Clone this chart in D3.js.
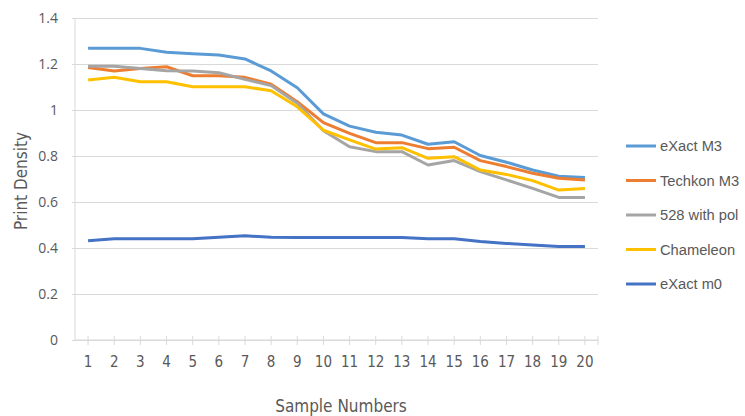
<!DOCTYPE html>
<html>
<head>
<meta charset="utf-8">
<script src="https://cdn.jsdelivr.net/npm/d3@7"></script>
<style>
  html, body { margin: 0; padding: 0; background: #fff; }
  svg { display: block; }
</style>
</head>
<body>
<svg id="chart" width="745" height="416"></svg>
<script>
// Sample numbers along the x axis
const samples = d3.range(1, 21);

// Print density readings per instrument
const exactM3   = [1.268, 1.268, 1.268, 1.251, 1.245, 1.239, 1.222, 1.170, 1.097, 0.983,
                   0.930, 0.903, 0.891, 0.851, 0.862, 0.802, 0.773, 0.739, 0.712, 0.706];
const techkonM3 = [1.185, 1.170, 1.180, 1.188, 1.149, 1.149, 1.142, 1.112, 1.036, 0.945,
                   0.898, 0.858, 0.858, 0.832, 0.838, 0.780, 0.754, 0.725, 0.703, 0.696];
const with528   = [1.190, 1.190, 1.180, 1.171, 1.170, 1.162, 1.133, 1.106, 1.029, 0.910,
                   0.840, 0.819, 0.819, 0.761, 0.780, 0.732, 0.696, 0.659, 0.620, 0.620];
const chameleon = [1.130, 1.142, 1.123, 1.123, 1.101, 1.101, 1.101, 1.084, 1.014, 0.912,
                   0.870, 0.830, 0.836, 0.790, 0.797, 0.739, 0.720, 0.693, 0.652, 0.659];
const exactM0   = [0.432, 0.440, 0.440, 0.440, 0.440, 0.447, 0.453, 0.447, 0.446, 0.446,
                   0.446, 0.446, 0.446, 0.440, 0.440, 0.428, 0.420, 0.413, 0.406, 0.406];

const seriesNames  = ["eXact M3", "Techkon M3", "528 with pol", "Chameleon", "eXact m0"];
const seriesValues = [exactM3, techkonM3, with528, chameleon, exactM0];
const seriesColors = ["#5b9bd5", "#ed7d31", "#a5a5a5", "#ffc000", "#4472c4"];

const yTicks = [0, 0.2, 0.4, 0.6, 0.8, 1, 1.2, 1.4];

const svg = d3.select("#chart");
const plot = { left: 75, right: 598, top: 18, bottom: 340 };

const x = d3.scaleBand().domain(samples).range([plot.left, plot.right]);
const xc = d => x(d) + x.bandwidth() / 2;
const y = d3.scaleLinear().domain([0, 1.4]).range([plot.bottom, plot.top]);

const gridColor = "#d9d9d9";
const textColor = "#595959";
const condensed = "'DejaVu Sans Condensed', 'Liberation Sans Narrow', sans-serif";
const fmt = d => d3.format("")(+d.toFixed(1));

// Horizontal gridlines, reaching a few pixels left of the plot
const gy = svg.append("g")
  .attr("transform", `translate(${plot.right},0)`)
  .call(d3.axisLeft(y).tickValues(yTicks).tickSize(plot.right - plot.left + 3));
gy.select(".domain").remove();
gy.selectAll(".tick line").attr("stroke", gridColor).attr("stroke-width", 1);
gy.selectAll(".tick text").remove();

// Y tick labels
svg.append("g").selectAll("text")
  .data(yTicks)
  .join("text")
  .attr("x", 58)
  .attr("y", d => y(d))
  .attr("dy", "0.35em")
  .attr("text-anchor", "end")
  .attr("fill", textColor)
  .style("font-family", "'Open Sans', sans-serif")
  .style("font-size", "14px")
  .text(fmt);

// Vertical axis line
svg.append("line")
  .attr("x1", plot.left).attr("x2", plot.left)
  .attr("y1", plot.top).attr("y2", plot.bottom)
  .attr("stroke", gridColor);

// X axis: baseline with tick marks at each sample and at the end
const xAxis = svg.append("g");
xAxis.append("line")
  .attr("x1", plot.left).attr("x2", plot.right)
  .attr("y1", plot.bottom).attr("y2", plot.bottom)
  .attr("stroke", gridColor);
xAxis.selectAll("line.tk")
  .data(samples.map(xc).concat([plot.right]))
  .join("line")
  .attr("class", "tk")
  .attr("x1", d => d).attr("x2", d => d)
  .attr("y1", plot.bottom - 4).attr("y2", plot.bottom + 5)
  .attr("stroke", gridColor);
xAxis.selectAll("text")
  .data(samples)
  .join("text")
  .attr("x", d => xc(d))
  .attr("y", 362)
  .attr("dy", "0.35em")
  .attr("text-anchor", "middle")
  .attr("fill", textColor)
  .style("font-family", condensed)
  .style("font-size", "15px")
  .text(d => d);

// Axis titles
svg.append("text")
  .attr("x", 341).attr("y", 406)
  .attr("dy", "0.35em")
  .attr("text-anchor", "middle")
  .attr("fill", textColor)
  .style("font-family", condensed)
  .style("font-size", "17px")
  .text("Sample Numbers");
svg.append("text")
  .attr("transform", "translate(21,181) rotate(-90)")
  .attr("dy", "0.35em")
  .attr("text-anchor", "middle")
  .attr("fill", textColor)
  .style("font-family", condensed)
  .style("font-size", "17px")
  .text("Print Density");

// Series lines
const line = d3.line().x((d, i) => xc(samples[i])).y(d => y(d));
svg.append("g").selectAll("path")
  .data(seriesValues)
  .join("path")
  .attr("d", d => line(d))
  .attr("fill", "none")
  .attr("stroke", (d, i) => seriesColors[i])
  .attr("stroke-width", 3)
  .attr("stroke-linejoin", "round");

// Legend
const legend = svg.append("g").selectAll("g")
  .data(seriesNames)
  .join("g")
  .attr("transform", (d, i) => `translate(626,${146 + i * 34.5})`);
legend.append("line")
  .attr("x1", 0).attr("x2", 30)
  .attr("stroke", (d, i) => seriesColors[i])
  .attr("stroke-width", 3);
legend.append("text")
  .attr("x", 34)
  .attr("dy", "0.35em")
  .attr("fill", textColor)
  .style("font-family", "'Liberation Sans', Arial, sans-serif")
  .style("font-size", "14.7px")
  .text(d => d);
</script>
</body>
</html>
